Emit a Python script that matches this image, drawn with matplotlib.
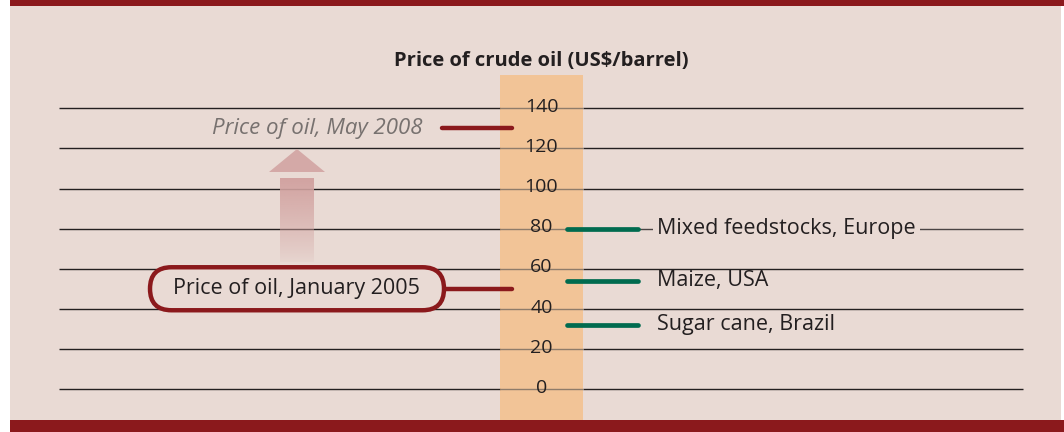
import numpy as np
import matplotlib.pyplot as plt
from matplotlib.patches import Rectangle, FancyBboxPatch, Polygon
from matplotlib.colors import to_rgb

plt.rcParams['font.family'] = ['Open Sans', 'DejaVu Sans']

# price axis
ticks = [0, 20, 40, 60, 80, 100, 120, 140]
tick_labels = [str(t) for t in ticks]

# oil price markers (US$/barrel)
oil_labels = ["Price of oil, May 2008", "Price of oil, January 2005"]
oil_prices = [130, 50]

# break-even prices of biofuels
fuel_labels = ["Mixed feedstocks, Europe", "Maize, USA", "Sugar cane, Brazil"]
fuel_prices = [80, 54, 32]

bg = '#e9dad4'
red = '#8b191c'
green = '#006b4f'
orange = '#f2c497'
ink = '#231f20'

W, H = 1064, 432
fig = plt.figure(figsize=(W / 100, H / 100), dpi=100)
fig.patch.set_facecolor('white')
ax = fig.add_axes([0, 0, 1, 1])
ax.set_axis_off()
ppu = 2.005  # pixels per dollar
y0 = 389     # pixel row of zero

# background panel and bands
ax.add_patch(Rectangle((10 / W, 0), 1051 / W, 1, transform=ax.transAxes,
                       facecolor=bg, edgecolor='none', zorder=0))
ax.add_patch(Rectangle((10 / W, 1 - 6 / H), 1 - 10 / W, 6 / H, transform=ax.transAxes,
                       facecolor=red, edgecolor='none', zorder=6))
ax.add_patch(Rectangle((10 / W, 0), 1 - 10 / W, 12 / H, transform=ax.transAxes,
                       facecolor=red, edgecolor='none', zorder=6))

# price column
col_l, col_r = 500, 583
ax.add_patch(Rectangle((col_l / W, 12 / H), (col_r - col_l) / W, (H - 75 - 12) / H,
                       transform=ax.transAxes, facecolor=orange, edgecolor='none', zorder=1))
col_c = (col_l + col_r) / 2

# gridlines
for t in ticks:
    ax.hlines(t, 59, col_l, color=ink, lw=1.0, zorder=2)
    ax.hlines(t, col_r, 1023, color='#4a4444' if t == 80 else ink, lw=1.0, zorder=2)
ax.hlines(ticks, col_l, col_r, color='#8f7c6a', lw=1.0, zorder=2)
for t, lab in zip(ticks, tick_labels):
    ax.text(col_c, t + 0.6, lab, ha='center', va='center', fontsize=14, color=ink, zorder=4)

ax.text(col_c, (y0 - 61) / ppu, "Price of crude oil (US$/barrel)", ha='center', va='center',
        fontsize=14.5, fontweight='bold', color=ink, zorder=4)

# oil price markers
ax.plot([442, 512], [oil_prices[0]] * 2, color=red, lw=3.2, solid_capstyle='round', zorder=4)
ax.text(423, oil_prices[0], oil_labels[0], ha='right', va='center', fontsize=16,
        fontstyle='italic', color='#77716f', zorder=4)
ax.plot([440, 512], [oil_prices[1]] * 2, color=red, lw=3.2, solid_capstyle='round', zorder=4)
bh = 43 / ppu
box = FancyBboxPatch((150, oil_prices[1] - bh / 2), 294, bh,
                     boxstyle='round,pad=0,rounding_size=21.5', mutation_aspect=1 / ppu,
                     facecolor=bg, edgecolor=red, lw=3.2, zorder=5)
ax.add_patch(box)
ax.text(296, oil_prices[1], oil_labels[1], ha='center', va='center', fontsize=15.5,
        color=ink, zorder=6)

# faded arrow
c = np.array(to_rgb('#d2a3a1'))
n = 100
grad = np.zeros((n, 1, 4))
grad[:, 0, :3] = c
grad[:, 0, 3] = np.linspace(1, 0.05, n) ** 0.8
ax.imshow(grad, extent=[280, 314, (y0 - 262) / ppu, (y0 - 178) / ppu], aspect='auto',
          origin='upper', zorder=3, interpolation='bilinear')
ax.add_patch(Polygon([[269, (y0 - 172) / ppu], [325, (y0 - 172) / ppu], [297, (y0 - 149) / ppu]],
                     closed=True, facecolor='#d4a9a7', edgecolor='none', zorder=3))
ax.set_xlim(0, W)
ax.set_ylim((y0 - H) / ppu, y0 / ppu)

# biofuel markers
for i, (lab, p) in enumerate(zip(fuel_labels, fuel_prices)):
    ax.plot([567, 638], [p, p], color=green, lw=3.4, solid_capstyle='round', zorder=4)
    bbox = dict(boxstyle='square,pad=0.2', facecolor=bg, edgecolor='none') if i == 0 else None
    ax.text(657, p, lab, ha='left', va='center', fontsize=15.5, color=ink, zorder=5, bbox=bbox)

fig.savefig('out.png', dpi=100, facecolor='white')
